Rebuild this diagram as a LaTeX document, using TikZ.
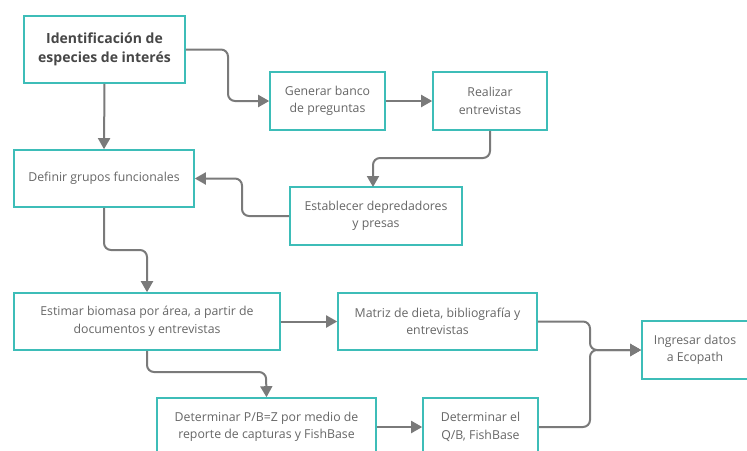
\documentclass[tikz,border=0pt]{standalone}
\usepackage{fontspec}
\setmainfont{Open Sans}
\usetikzlibrary{arrows.meta}

\definecolor{tealbox}{HTML}{3DBDB8}
\definecolor{txtgray}{HTML}{666666}
\definecolor{arrgray}{HTML}{7A7A7A}

\tikzset{
  stepbox/.style={draw=tealbox,line width=1.6pt,fill=white,align=center,
    text=txtgray,font=\fontsize{12.3}{17.5}\selectfont,inner sep=2pt},
  flow/.style={draw=arrgray,line width=2pt,rounded corners=7pt,
    -{Triangle[length=11pt,width=12pt]}},
}

\begin{document}
\begin{tikzpicture}[x=1pt,y=-1pt]
  \useasboundingbox (0,0) rectangle (747,450);
  \clip (0,0) rectangle (747,450);

  % boxes (pixel coordinates of the reference)
  \node[stepbox,minimum width=161pt,minimum height=67pt,text=black!72,
        font=\fontsize{14}{19}\selectfont\bfseries] (ident) at (104.5,49.5)
        {Identificación de\\especies de interés};
  \node[stepbox,minimum width=115pt,minimum height=58pt] (banco) at (327.5,101) {Generar banco\\de preguntas};
  \node[stepbox,minimum width=114pt,minimum height=58pt] (entrev) at (490,101) {Realizar\\entrevistas};
  \node[stepbox,minimum width=180pt,minimum height=57pt] (grupos) at (104,178.5) {Definir grupos funcionales};
  \node[stepbox,minimum width=172pt,minimum height=58pt] (depred) at (376,216) {Establecer depredadores\\y presas};
  \node[stepbox,minimum width=266pt,minimum height=57pt] (biomasa) at (147,321.5) {Estimar biomasa por área, a partir de\\documentos y entrevistas};
  \node[stepbox,minimum width=199pt,minimum height=57pt] (dieta) at (437.5,321.5) {Matriz de dieta, bibliografía y\\entrevistas};
  \node[stepbox,minimum width=106pt,minimum height=58pt] (ecopath) at (695,350) {Ingresar datos\\a Ecopath};
  \node[stepbox,minimum width=219pt,minimum height=58pt] (pb) at (266.5,427) {Determinar P/B=Z por medio de\\reporte de capturas y FishBase};
  \node[stepbox,minimum width=115pt,minimum height=58pt] (qb) at (480.5,427) {Determinar el\\Q/B, FishBase};

  % connectors
  \draw[flow] (ident.east) -- (228,49.5) |- (banco.west);
  \draw[flow] (ident.south) -- (grupos.north);
  \draw[flow] (banco.east) -- (entrev.west);
  \draw[flow] (entrev.south) |- (373,158) -- (373,187);
  \draw[flow] (depred.west) -- (242,216) |- (grupos.east);
  \draw[flow] (grupos.south) |- (147,250) -- (biomasa.north);
  \draw[flow] (biomasa.east) -- (dieta.west);
  \draw[flow] (biomasa.south) |- (266,372) -- (pb.north);
  \draw[flow] (pb.east) -- (qb.west);
  \draw[flow] (dieta.east) -- (590,321.5) |- (ecopath.west);
  \draw[flow] (qb.east) -- (590,427) |- (ecopath.west);
\end{tikzpicture}
\end{document}
